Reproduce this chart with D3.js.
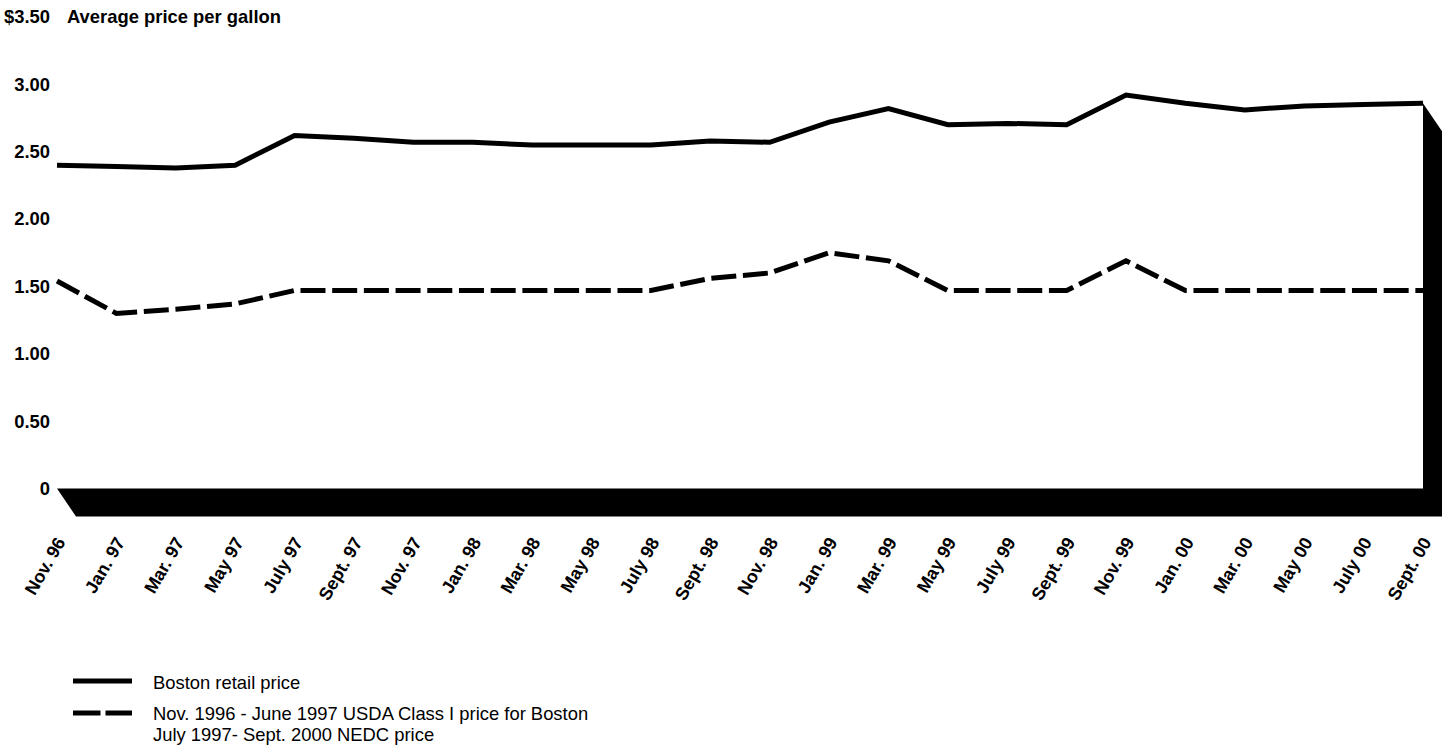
<!DOCTYPE html>
<html><head><meta charset="utf-8">
<script src="https://cdn.jsdelivr.net/npm/d3@7"></script>
<style>
html,body{margin:0;padding:0;background:#fff;}
svg{display:block;}
text{font-family:"Liberation Sans",Arial,Helvetica,sans-serif;fill:#000;}
</style></head>
<body>
<svg id="chart" width="1450" height="749"></svg>
<script>
const categories = ["Nov. 96","Jan. 97","Mar. 97","May 97","July 97","Sept. 97","Nov. 97","Jan. 98","Mar. 98","May 98","July 98","Sept. 98","Nov. 98","Jan. 99","Mar. 99","May 99","July 99","Sept. 99","Nov. 99","Jan. 00","Mar. 00","May 00","July 00","Sept. 00"];
const retail = [2.40,2.39,2.38,2.40,2.62,2.60,2.57,2.57,2.55,2.55,2.55,2.58,2.57,2.72,2.82,2.70,2.71,2.70,2.92,2.86,2.81,2.84,2.85,2.86];
const classI = [1.54,1.30,1.33,1.37,1.47,1.47,1.47,1.47,1.47,1.47,1.47,1.56,1.60,1.75,1.69,1.47,1.47,1.47,1.69,1.47,1.47,1.47,1.47,1.47];
const yTicks = [0,0.5,1.0,1.5,2.0,2.5,3.0,3.5];
const yTickLabels = ["0","0.50","1.00","1.50","2.00","2.50","3.00","$3.50"];
const yTitle = "Average price per gallon";
const legendLabels = ["Boston retail price", "Nov. 1996 - June 1997 USDA Class I price for Boston", "July 1997- Sept. 2000 NEDC price"];

const svg = d3.select("#chart");
const x = d3.scalePoint().domain(categories).range([57,1423]);
const y = d3.scaleLinear().domain([0,3.5]).range([488.5,17]);
const depthX = 19, depthY = 28;

// Y axis labels
const yAxis = d3.axisLeft(y).tickValues(yTicks).tickSize(0).tickPadding(0)
  .tickFormat((d,i)=>yTickLabels[i]);
const gy = svg.append("g").attr("transform","translate(50,0)").call(yAxis);
gy.select(".domain").remove();
gy.selectAll("text").attr("font-size",18.4).attr("font-weight","bold")
  .attr("font-family","'Liberation Sans',Arial,Helvetica,sans-serif").attr("fill","#000");

svg.append("text").attr("x",67).attr("y",y(3.5)).attr("dy","0.32em")
  .attr("font-size",18.4).attr("font-weight","bold").text(yTitle);

// lines
const line = d3.line().x((d,i)=>x(categories[i])).y(d=>y(d));
svg.append("path").datum(retail).attr("d",line).attr("fill","none")
  .attr("stroke","#000").attr("stroke-width",5).attr("stroke-linejoin","miter");
svg.append("path").datum(classI).attr("d",line).attr("fill","none")
  .attr("stroke","#000").attr("stroke-width",5).attr("stroke-dasharray","25,6.7").attr("stroke-linejoin","miter");

// 3D floor and wall
const x0 = x(categories[0]), x1 = x(categories[categories.length-1]);
const yb = y(0), yTop = y(retail[retail.length-1]);
const pts = [[x0,yb],[x1,yb],[x1,yTop],[x1+depthX,yTop+depthY],[x1+depthX,yb+depthY],[x0+depthX,yb+depthY]];
svg.append("path").attr("d","M"+pts.map(p=>p.join(",")).join("L")+"Z").attr("fill","#000");

// X labels
const gx = svg.append("g");
gx.selectAll("text").data(categories).join("text")
  .attr("transform",d=>`translate(${x(d)+9},542) rotate(-60)`)
  .attr("text-anchor","end").attr("font-size",18).attr("font-weight","bold").text(d=>d);

// Legend
svg.append("line").attr("x1",73).attr("x2",132).attr("y1",681).attr("y2",681)
  .attr("stroke","#000").attr("stroke-width",5);
svg.append("line").attr("x1",73).attr("x2",132).attr("y1",713).attr("y2",713)
  .attr("stroke","#000").attr("stroke-width",5).attr("stroke-dasharray","27.5,5");
svg.append("text").attr("x",153).attr("y",689).attr("font-size",18.4).text(legendLabels[0]);
svg.append("text").attr("x",153).attr("y",720).attr("font-size",18.4).text(legendLabels[1]);
svg.append("text").attr("x",153).attr("y",741).attr("font-size",18.4).text(legendLabels[2]);
</script>
</body></html>
